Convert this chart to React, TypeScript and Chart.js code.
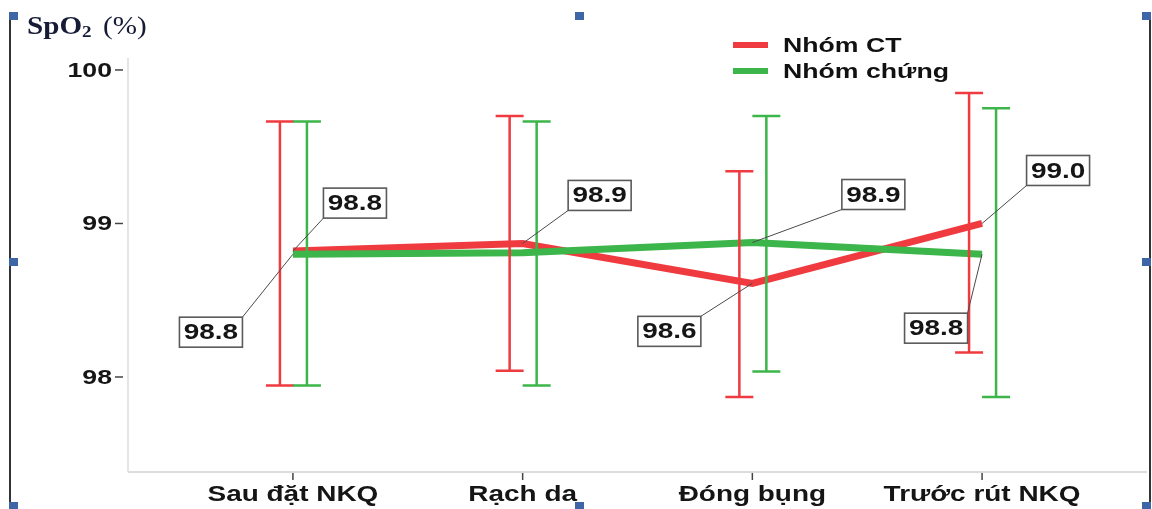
import React, { useEffect, useRef } from "react";
import { Chart, registerables } from "chart.js";

Chart.register(...registerables);

// Time points and series
const CATEGORIES = ["Sau đặt NKQ", "Rạch da", "Đóng bụng", "Trước rút NKQ"];
const SERIES_NAMES = ["Nhóm CT", "Nhóm chứng"];

// SpO2 means and error-bar limits (%)
const CT_MEAN = [98.82, 98.87, 98.61, 99.0];
const CT_LOW = [97.945, 98.04, 97.87, 98.16];
const CT_HIGH = [99.665, 99.7, 99.34, 99.85];

const CHUNG_MEAN = [98.8, 98.81, 98.876, 98.8];
const CHUNG_LOW = [97.945, 97.945, 98.035, 97.87];
const CHUNG_HIGH = [99.665, 99.665, 99.7, 99.75];

const Y_TICKS = [98, 99, 100];

const COLORS = ["#ef3b3f", "#3cb54a"];

// Styling / layout constants
const SX = 1.27; // horizontal text stretch
const SANS = '"Liberation Sans", Arial, sans-serif';
const SERIF = '"Liberation Serif", "Times New Roman", serif';
const ERR_OFFSET = [-13, 14];
const CAP_HALF = 14;
const BOX_W = 63;
const BOX_H = 30;
const LABEL_PLACEMENT = [
  { series: 0, index: 0, dx: 62, dy: -48 },
  { series: 1, index: 0, dx: -82, dy: 78 },
  { series: 0, index: 1, dx: 77, dy: -48 },
  { series: 0, index: 2, dx: -83, dy: 48 },
  { series: 1, index: 2, dx: 121, dy: -48 },
  { series: 0, index: 3, dx: 76, dy: -53 },
  { series: 1, index: 3, dx: -46, dy: 74 },
];

const MEANS = [CT_MEAN, CHUNG_MEAN];
const LOWS = [CT_LOW, CHUNG_LOW];
const HIGHS = [CT_HIGH, CHUNG_HIGH];

function stretchText(
  ctx: CanvasRenderingContext2D,
  text: string,
  x: number,
  y: number,
  font: string,
  color: string,
  align: CanvasTextAlign,
  sx = SX,
  baseline: CanvasTextBaseline = "middle"
) {
  ctx.save();
  ctx.font = font;
  ctx.fillStyle = color;
  ctx.textAlign = align;
  ctx.textBaseline = baseline;
  ctx.translate(x, y);
  ctx.scale(sx, 1);
  ctx.fillText(text, 0, 0);
  ctx.restore();
}

const decorPlugin = {
  id: "decor",
  beforeDatasetsDraw(chart: any) {
    const ctx: CanvasRenderingContext2D = chart.ctx;
    const { left, right, top, bottom } = chart.chartArea;
    const xs = chart.scales.x;
    const ys = chart.scales.y;

    // axis lines
    ctx.save();
    ctx.strokeStyle = "#dcdcdc";
    ctx.lineWidth = 1.5;
    ctx.beginPath();
    ctx.moveTo(left, top);
    ctx.lineTo(left, bottom);
    ctx.stroke();
    ctx.lineWidth = 2;
    ctx.beginPath();
    ctx.moveTo(left, bottom);
    ctx.lineTo(right, bottom);
    ctx.stroke();

    // y ticks + labels
    ctx.strokeStyle = "#444";
    ctx.lineWidth = 1.5;
    Y_TICKS.forEach((v) => {
      const y = ys.getPixelForValue(v);
      ctx.beginPath();
      ctx.moveTo(left - 13, y);
      ctx.lineTo(left - 5, y);
      ctx.stroke();
      stretchText(ctx, String(v), left - 16, y + 1, `bold 21px ${SANS}`, "#151515", "right");
    });

    // x ticks + labels
    CATEGORIES.forEach((c, i) => {
      const x = xs.getPixelForValue(i);
      ctx.beginPath();
      ctx.moveTo(x, bottom + 1);
      ctx.lineTo(x, bottom + 8);
      ctx.stroke();
      stretchText(ctx, c, x, bottom + 23, `bold 22px ${SANS}`, "#151515", "center");
    });
    ctx.restore();
  },
  afterDatasetsDraw(chart: any) {
    const ctx: CanvasRenderingContext2D = chart.ctx;
    const xs = chart.scales.x;
    const ys = chart.scales.y;

    // error bars
    ctx.save();
    ctx.lineWidth = 2.5;
    for (let s = 0; s < 2; s++) {
      ctx.strokeStyle = COLORS[s];
      CATEGORIES.forEach((_, i) => {
        const x = xs.getPixelForValue(i) + ERR_OFFSET[s];
        const yl = ys.getPixelForValue(LOWS[s][i]);
        const yh = ys.getPixelForValue(HIGHS[s][i]);
        ctx.beginPath();
        ctx.moveTo(x, yl);
        ctx.lineTo(x, yh);
        ctx.moveTo(x - CAP_HALF, yl);
        ctx.lineTo(x + CAP_HALF, yl);
        ctx.moveTo(x - CAP_HALF, yh);
        ctx.lineTo(x + CAP_HALF, yh);
        ctx.stroke();
      });
    }

    // value labels with leader lines
    LABEL_PLACEMENT.forEach((p) => {
      const v = MEANS[p.series][p.index];
      const px = xs.getPixelForValue(p.index);
      const py = ys.getPixelForValue(v);
      const cx = px + p.dx;
      const cy = py + p.dy;
      const ax = cx - Math.sign(p.dx) * (BOX_W / 2);
      const ay = cy - Math.sign(p.dy) * (BOX_H / 2);
      ctx.strokeStyle = "#4a4a4a";
      ctx.lineWidth = 1;
      ctx.beginPath();
      ctx.moveTo(ax, ay);
      ctx.lineTo(px, py);
      ctx.stroke();
      ctx.fillStyle = "#ffffff";
      ctx.fillRect(cx - BOX_W / 2, cy - BOX_H / 2, BOX_W, BOX_H);
      ctx.strokeStyle = "#5a5a5a";
      ctx.lineWidth = 1.6;
      ctx.strokeRect(cx - BOX_W / 2, cy - BOX_H / 2, BOX_W, BOX_H);
      stretchText(ctx, v.toFixed(1), cx, cy + 1, `bold 22px ${SANS}`, "#151515", "center");
    });
    ctx.restore();
  },
  afterDraw(chart: any) {
    const ctx: CanvasRenderingContext2D = chart.ctx;
    ctx.save();

    // axis title
    const tsx = 1.12;
    const tx = 27;
    const ty = 34;
    ctx.font = `bold 26px ${SERIF}`;
    const w1 = ctx.measureText("SpO").width * tsx;
    stretchText(ctx, "SpO", tx, ty, `bold 26px ${SERIF}`, "#161b36", "left", tsx, "alphabetic");
    stretchText(ctx, "2", tx + w1, ty + 3, `bold 17px ${SERIF}`, "#161b36", "left", tsx, "alphabetic");
    stretchText(ctx, "(%)", 103, ty, `26px ${SERIF}`, "#161b36", "left", tsx, "alphabetic");

    // legend
    const legendY = [45, 71];
    SERIES_NAMES.forEach((name, s) => {
      ctx.fillStyle = COLORS[s];
      ctx.fillRect(733, legendY[s] - 3, 35, 6);
      stretchText(ctx, name, 783, legendY[s] + 1, `bold 21px ${SANS}`, "#111", "left");
    });

    // picture frame and handles
    ctx.strokeStyle = "#333";
    ctx.lineWidth = 2;
    ctx.beginPath();
    ctx.moveTo(10, 13);
    ctx.lineTo(10, 509);
    ctx.moveTo(1150, 13);
    ctx.lineTo(1150, 509);
    ctx.stroke();
    ctx.fillStyle = "#3e66a6";
    const hx = [9, 575, 1142];
    const hy = [12, 258, 502];
    hx.forEach((x, i) =>
      hy.forEach((y, j) => {
        if (i === 1 && j === 1) return;
        ctx.fillRect(x, y, 9, 8);
      })
    );
    ctx.restore();
  },
};

export default function App() {
  const canvasRef = useRef<HTMLCanvasElement | null>(null);

  useEffect(() => {
    const canvas = canvasRef.current;
    if (!canvas) return;
    const chart = new Chart(canvas, {
      type: "line",
      data: {
        datasets: [
          {
            label: SERIES_NAMES[0],
            data: CT_MEAN.map((y, i) => ({ x: i, y })),
            borderColor: COLORS[0],
            backgroundColor: COLORS[0],
            borderWidth: 7,
            pointRadius: 0,
            tension: 0,
            order: 1,
          },
          {
            label: SERIES_NAMES[1],
            data: CHUNG_MEAN.map((y, i) => ({ x: i, y })),
            borderColor: COLORS[1],
            backgroundColor: COLORS[1],
            borderWidth: 7,
            pointRadius: 0,
            tension: 0,
            order: 0,
          },
        ],
      },
      options: {
        animation: false,
        responsive: false,
        devicePixelRatio: 1,
        layout: { padding: { left: 128, right: 5, top: 58, bottom: 37 } },
        scales: {
          x: { type: "linear", min: -0.718, max: 3.718, display: false },
          y: { type: "linear", min: 97.381, max: 100.078, display: false },
        },
        plugins: {
          legend: { display: false },
          tooltip: { enabled: false },
        },
      },
      plugins: [decorPlugin],
    });
    return () => chart.destroy();
  }, []);

  return (
    <div style={{ position: "fixed", left: 0, top: 0, width: 1152, height: 509, background: "#fff" }}>
      <canvas ref={canvasRef} width={1152} height={509} style={{ display: "block" }} />
    </div>
  );
}
